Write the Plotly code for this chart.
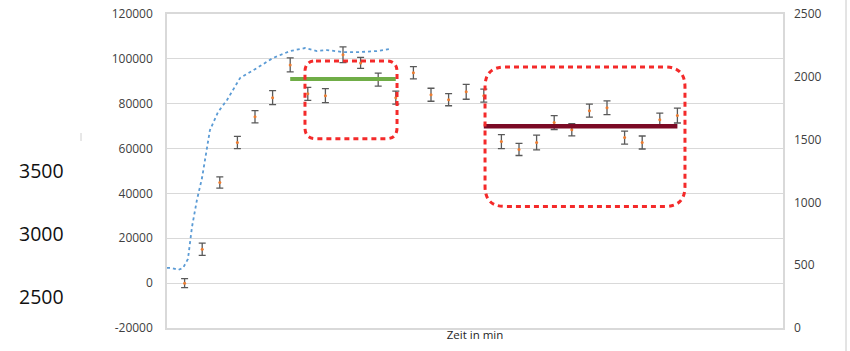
import plotly.graph_objects as go

# ---------------- data ----------------
time_pts = list(range(1, 30))
values = [0, 15100, 44900, 62700, 74200, 82700, 97300, 84400, 83600, 101800,
          98200, 90700, 82700, 93800, 84000, 81800, 85300, 83600, 63100, 59600,
          62700, 71600, 68400, 76900, 78200, 64900, 62700, 72900, 74700]
errors = [2000, 2700, 2500, 2700, 2700, 3100, 3100, 2900, 3100, 3500,
          2450, 2900, 2900, 2700, 2900, 2700, 3300, 2900, 3100, 2700,
          3300, 3100, 2700, 2900, 3100, 2900, 2900, 2900, 3300]

blue_x = [0, 0.28, 0.63, 0.91, 1.19, 1.42, 1.70, 1.99, 2.44, 2.90, 3.41, 4.15,
          5.11, 6.02, 6.99, 7.84, 8.52, 9.09, 10.0, 10.97, 11.93, 12.67]
blue_y = [478, 478, 462, 478, 549, 804, 1019, 1194, 1576, 1720, 1815, 1990,
          2070, 2150, 2205, 2229, 2205, 2213, 2197, 2197, 2205, 2221]

green_x = [7, 13]
green_y = [91000, 91000]
red_x = [18, 29]
red_y = [70000, 70000]

left_ticks = [-20000, 0, 20000, 40000, 60000, 80000, 100000, 120000]
left_labels = ["-20000", "0", "20000", "40000", "60000", "80000", "100000", "120000"]
right_ticks = [0, 500, 1000, 1500, 2000, 2500]
right_labels = ["0", "500", "1000", "1500", "2000", "2500"]
stray_labels = ["3500", "3000", "2500", "2000"]

# ---------------- layout constants (page pixels) ----------------
W, H = 850, 351
PL, PR, PT, PB = 167, 783, 14, 328   # plot area in page pixels
ML, MT = PL, PT
MR, MB = W - PR, H - PB
PW = PR - PL
PH = PB - PT
XR = [0, 35]
YR = [-20000, 120000]
px_per_x = PW / (XR[1] - XR[0])
val_per_px = (YR[1] - YR[0]) / PH


def px(xp):
    return (xp - PL) / PW


def py(yp):
    return (PB - yp) / PH


FONT = "Open Sans"

fig = go.Figure()

fig.add_trace(go.Scatter(
    x=blue_x, y=blue_y, yaxis="y2", mode="lines",
    line=dict(color="#5B9BD5", width=1.8, dash="dot"), showlegend=False))

fig.add_trace(go.Scatter(
    x=time_pts, y=values, mode="markers",
    marker=dict(color="#ED7D31", size=3),
    error_y=dict(type="data", array=errors, visible=True,
                 color="#595959", thickness=1.3, width=3.5),
    showlegend=False))

fig.add_trace(go.Scatter(
    x=green_x, y=green_y, mode="lines",
    line=dict(color="#70AD47", width=4), showlegend=False))
fig.add_trace(go.Scatter(
    x=red_x, y=red_y, mode="lines",
    line=dict(color="#7B0A25", width=4.5), showlegend=False))


def rounded_rect(x0, x1, y0, y1, r):
    rx = r / px_per_x
    ry = r * val_per_px
    return (f"M {x0+rx},{y1} L {x1-rx},{y1} Q {x1},{y1} {x1},{y1-ry} "
            f"L {x1},{y0+ry} Q {x1},{y0} {x1-rx},{y0} "
            f"L {x0+rx},{y0} Q {x0},{y0} {x0},{y0+ry} "
            f"L {x0},{y1-ry} Q {x0},{y1} {x0+rx},{y1} Z")


shapes = [
    dict(type="path", xref="x", yref="y",
         path=rounded_rect(7.84, 13.07, 64400, 99100, 11),
         line=dict(color="#F42A2A", width=3, dash="5px,4px")),
    dict(type="path", xref="x", yref="y",
         path=rounded_rect(18.07, 29.43, 34200, 96400, 20),
         line=dict(color="#F42A2A", width=3, dash="5px,4px")),
    # stray gray tick on the left and vertical line on the right
    dict(type="line", xref="paper", yref="paper",
         x0=px(81), x1=px(81), y0=py(141), y1=py(133),
         line=dict(color="#D0D0D0", width=1)),
    dict(type="line", xref="paper", yref="paper",
         x0=px(846), x1=px(846), y0=py(351), y1=py(0),
         line=dict(color="#C8C8C8", width=1)),
]

annotations = []
for lbl, ypx in zip(stray_labels, [170, 233, 296, 359]):
    annotations.append(dict(
        text=lbl, xref="paper", yref="paper",
        x=px(17), y=py(ypx),
        xanchor="left", yanchor="middle", showarrow=False,
        font=dict(family=FONT, size=19.5, color="#111111")))

fig.update_layout(
    width=W, height=H,
    margin=dict(l=ML, r=MR, t=MT, b=MB, autoexpand=False),
    paper_bgcolor="white", plot_bgcolor="white",
    font=dict(family=FONT, size=12, color="#404040"),
    shapes=shapes, annotations=annotations,
    xaxis=dict(range=XR, showticklabels=False, showgrid=False, zeroline=False,
               showline=True, linecolor="#D9D9D9", linewidth=1.5, mirror=True,
               ticks="", automargin=False,
               title=dict(text="Zeit in min", standoff=2,
                          font=dict(family=FONT, size=11.5, color="#262626"))),
    yaxis=dict(range=YR, tickvals=left_ticks, ticktext=left_labels,
               showgrid=True, gridcolor="#D9D9D9", gridwidth=1.3,
               zeroline=False, showline=True, linecolor="#D9D9D9",
               linewidth=1.5, mirror=True, ticks="", ticklabelstandoff=10,
               automargin=False, ticklabeloverflow="allow",
               tickfont=dict(family=FONT, size=12, color="#404040")),
    yaxis2=dict(range=[0, 2500], tickvals=right_ticks, ticktext=right_labels,
                overlaying="y", side="right", showgrid=False, zeroline=False,
                showline=False, ticks="", ticklabelstandoff=10,
                automargin=False, ticklabeloverflow="allow",
                tickfont=dict(family=FONT, size=12, color="#404040")),
)

fig.write_html(
    "out.html",
    config={"displayModeBar": False},
    post_script="document.body.style.margin='0';document.body.style.overflow='hidden';")
